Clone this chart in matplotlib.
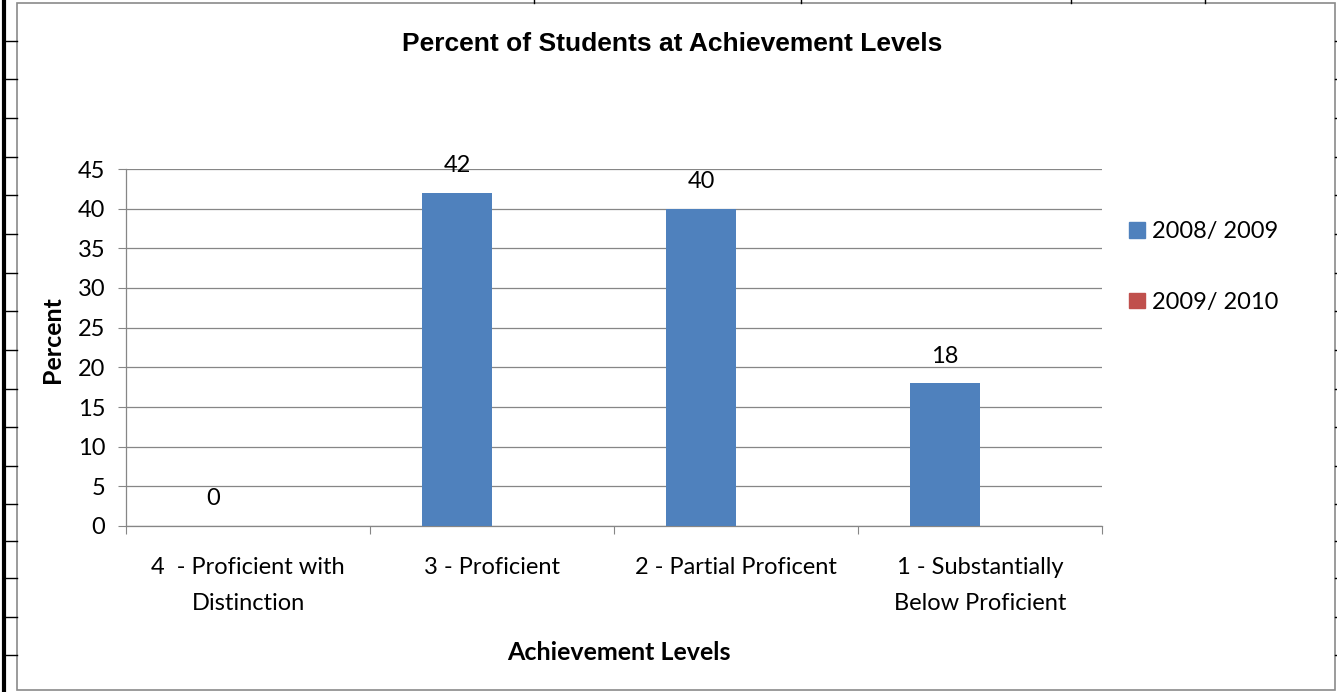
import matplotlib
matplotlib.use("Agg")
import matplotlib.pyplot as plt
from matplotlib.lines import Line2D
from matplotlib.patches import Rectangle, Patch
import numpy as np

# data
levels = ["4  - Proficient with\nDistinction", "3 - Proficient",
          "2 - Partial Proficent", "1 - Substantially\nBelow Proficient"]
series_names = ["2008/ 2009", "2009/ 2010"]
values_0809 = [0, 42, 40, 18]
values_0910 = [None, None, None, None]  # no data shown for this year

BLUE = "#4F81BD"
RED = "#C0504D"
GRID = "#868686"
W, H = 1337, 692

plt.rcParams['font.family'] = ['Lato', 'DejaVu Sans']

fig = plt.figure(figsize=(W / 100, H / 100), dpi=100)

def fx(px):
    return px / W

def fy(py):
    return 1 - py / H

# spreadsheet background bits: thick left border and cell ticks
fig.add_artist(Line2D([fx(4), fx(4)], [0, 1], color="black", lw=3))
for py in [41, 79, 118, 157, 195, 234, 273, 311, 350, 389, 427, 466, 504, 541, 578, 617, 655]:
    fig.add_artist(Line2D([fx(4), fx(17)], [fy(py), fy(py)], color="black", lw=1))
    fig.add_artist(Line2D([fx(1335), fx(1337)], [fy(py), fy(py)], color="black", lw=1))
for px in [534, 801, 1071, 1205]:
    fig.add_artist(Line2D([fx(px), fx(px)], [fy(0), fy(3)], color="black", lw=1))

# chart frame
fig.add_artist(Rectangle((fx(17), fy(690)), fx(1335) - fx(17), fy(3) - fy(690),
                         fill=False, edgecolor="#8a8a8a", lw=1.2))

ax = fig.add_axes([fx(126), fy(526), fx(1102) - fx(126), fy(169) - fy(526)])

x = np.arange(len(levels))
bw = 70 / 244
v1 = np.array(values_0809, dtype=float)
v2 = np.array([np.nan if v is None else v for v in values_0910], dtype=float)

ax.bar(x - bw / 2, v1, width=bw, color=BLUE, zorder=3, label=series_names[0])
ax.bar(x + bw / 2, np.nan_to_num(v2), width=bw, color=RED, zorder=3, label=series_names[1])

for xi, v in zip(x, v1):
    ax.text(xi - bw / 2, v + 2.1, f"{v:.0f}", ha="center", va="bottom", fontsize=17)

ax.set_xlim(-0.5, len(levels) - 0.5)
ax.set_ylim(0, 45)
ax.set_yticks(np.arange(0, 46, 5))
ax.yaxis.grid(True, color=GRID, lw=0.9)
ax.set_axisbelow(True)

ax.set_xticks(np.arange(-0.5, len(levels), 1.0))
ax.set_xticklabels([])
ax.set_xticks(x, minor=True)
ax.set_xticklabels(levels, minor=True, fontsize=17, linespacing=1.9)
ax.tick_params(axis="x", which="minor", length=0, pad=22)
ax.tick_params(axis="x", which="major", length=6, color=GRID, direction="out")
ax.tick_params(axis="y", length=6, color=GRID, direction="out", labelsize=17, pad=9)

for s in ["top", "right"]:
    ax.spines[s].set_visible(False)
for s in ["left", "bottom"]:
    ax.spines[s].set_color(GRID)
    ax.spines[s].set_linewidth(0.9)

fig.text(fx(53), fy(340), "Percent", ha="center", va="center", rotation=90,
         fontsize=18, fontweight="bold")
fig.text(fx(619), fy(652), "Achievement Levels", ha="center", va="center",
         fontsize=18, fontweight="bold")
fig.text(fx(672), fy(44), "Percent of Students at Achievement Levels", ha="center",
         va="center", fontsize=19, fontweight="bold", family="Liberation Sans")

handles = [Patch(color=BLUE), Patch(color=RED)]
fig.legend(handles, series_names, loc="upper left", bbox_to_anchor=(fx(1108), fy(200)),
           frameon=False, fontsize=17, handlelength=0.65, handleheight=0.65,
           handletextpad=0.3, labelspacing=2.1)

fig.savefig("out.png", dpi=100)
